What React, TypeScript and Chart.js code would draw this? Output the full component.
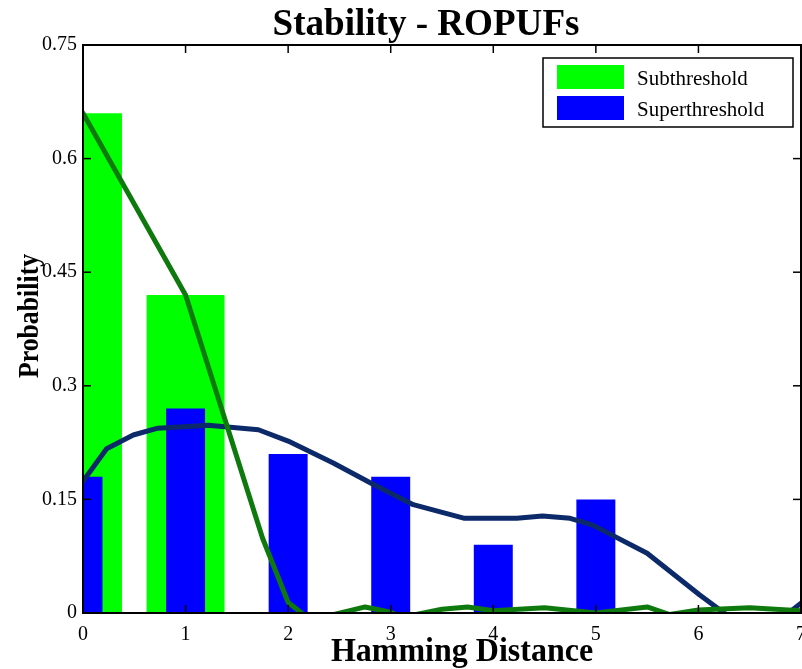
import React, { useEffect, useRef } from "react";
import { Chart, registerables } from "chart.js";

Chart.register(...registerables);

// ---- data ----
const categories = [0, 1, 2, 3, 4, 5, 6, 7];
const subthreshold = [0.66, 0.42, 0, 0, 0, 0, 0, 0];
const superthreshold = [0.18, 0.27, 0.21, 0.18, 0.09, 0.15, 0, 0];

const subFitX = [0, 1, 1.75, 2, 2.15, 2.3, 2.45, 2.75, 3.0, 3.12, 3.25, 3.5, 3.75, 4.0, 4.5, 5.0, 5.5, 5.72, 6.0, 6.5, 7.0];
const subFitY = [0.66, 0.42, 0.099, 0.014, -0.002, -0.015, -0.002, 0.008, 0.001, -0.006, -0.002, 0.005, 0.008, 0.003, 0.007, 0.0, 0.008, -0.002, 0.004, 0.007, 0.003];

const superFitX = [0, 0.23, 0.49, 0.73, 1.22, 1.71, 2.0, 2.44, 2.8, 3.22, 3.72, 4.23, 4.48, 4.75, 4.97, 5.5, 6.01, 6.28, 6.55, 6.84, 7.0];
const superFitY = [0.174, 0.217, 0.235, 0.244, 0.248, 0.242, 0.227, 0.198, 0.172, 0.143, 0.125, 0.125, 0.128, 0.125, 0.116, 0.079, 0.024, -0.003, -0.02, -0.004, 0.013];

const xTicks = [0, 1, 2, 3, 4, 5, 6, 7];
const xTickLabels = ["0", "1", "2", "3", "4", "5", "6", "7"];
const yTicks = [0, 0.15, 0.3, 0.45, 0.6, 0.75];
const yTickLabels = ["0", "0.15", "0.3", "0.45", "0.6", "0.75"];

const legendLabels = ["Subthreshold", "Superthreshold"];
const titleText = "Stability - ROPUFs";
const xTitleText = "Hamming Distance";
const yTitleText = "Probability";

// ---- styles ----
const SERIF = '"Liberation Serif", "Times New Roman", serif';
const GREEN_BAR = "#00ff00";
const BLUE_BAR = "#0000ff";
const GREEN_LINE = "#0e7a0e";
const NAVY_LINE = "#0c2a6a";

const decorPlugin = {
  id: "decor",
  afterDatasetsDraw(chart: any) {
    const { ctx, chartArea: a, scales } = chart;
    ctx.save();
    // frame
    ctx.strokeStyle = "#000";
    ctx.lineWidth = 2;
    ctx.strokeRect(a.left, a.top, a.right - a.left, a.bottom - a.top);
    // inward ticks
    ctx.lineWidth = 1.5;
    const tl = 8;
    const seg = (x1: number, y1: number, x2: number, y2: number) => {
      ctx.beginPath();
      ctx.moveTo(x1, y1);
      ctx.lineTo(x2, y2);
      ctx.stroke();
    };
    xTicks.forEach((v) => {
      const x = scales.x.getPixelForValue(v);
      seg(x, a.bottom, x, a.bottom - tl);
      seg(x, a.top, x, a.top + tl);
    });
    yTicks.forEach((v) => {
      const y = scales.y.getPixelForValue(v);
      seg(a.left, y, a.left + tl, y);
      seg(a.right, y, a.right - tl, y);
    });

    // legend box
    const lx = a.right - 258;
    const ly = a.top + 13;
    const lw = 250;
    const lh = 69;
    ctx.fillStyle = "#fff";
    ctx.fillRect(lx, ly, lw, lh);
    ctx.lineWidth = 1.5;
    ctx.strokeStyle = "#000";
    ctx.strokeRect(lx, ly, lw, lh);
    const colors = [GREEN_BAR, BLUE_BAR];
    ctx.font = `21px ${SERIF}`;
    ctx.textBaseline = "middle";
    ctx.textAlign = "left";
    legendLabels.forEach((lab, i) => {
      const sy = ly + 7 + i * 31;
      ctx.fillStyle = colors[i];
      ctx.fillRect(lx + 14, sy, 67, 24);
      ctx.fillStyle = "#000";
      ctx.fillText(lab, lx + 94, sy + 14);
    });

    // titles
    ctx.fillStyle = "#000";
    ctx.textAlign = "center";
    ctx.textBaseline = "alphabetic";

    ctx.save();
    ctx.translate((a.left + a.right) / 2 - 16, 35);
    ctx.scale(1.03, 1.08);
    ctx.font = `bold 36px ${SERIF}`;
    ctx.fillText(titleText, 0, 0);
    ctx.restore();

    ctx.save();
    ctx.translate((a.left + a.right) / 2 + 20, 661);
    ctx.scale(1.0, 1.08);
    ctx.font = `bold 32px ${SERIF}`;
    ctx.fillText(xTitleText, 0, 0);
    ctx.restore();

    ctx.save();
    ctx.translate(38, (a.top + a.bottom) / 2 - 13);
    ctx.rotate(-Math.PI / 2);
    ctx.scale(0.86, 1.0);
    ctx.font = `bold 30px ${SERIF}`;
    ctx.fillText(yTitleText, 0, 0);
    ctx.restore();

    ctx.restore();
  },
};

export default function App() {
  const canvasRef = useRef<HTMLCanvasElement | null>(null);

  useEffect(() => {
    if (!canvasRef.current) return;
    const chart = new Chart(canvasRef.current, {
      type: "bar",
      data: {
        datasets: [
          {
            type: "line",
            label: "subFit",
            data: subFitX.map((x, i) => ({ x, y: subFitY[i] })),
            borderColor: GREEN_LINE,
            borderWidth: 5,
            pointRadius: 0,
            tension: 0,
            borderCapStyle: "round",
            borderJoinStyle: "round",
            order: 0,
          } as any,
          {
            type: "line",
            label: "superFit",
            data: superFitX.map((x, i) => ({ x, y: superFitY[i] })),
            borderColor: NAVY_LINE,
            borderWidth: 5,
            pointRadius: 0,
            tension: 0,
            borderCapStyle: "round",
            borderJoinStyle: "round",
            order: 1,
          } as any,
          {
            type: "bar",
            label: legendLabels[1],
            data: categories.map((x, i) => ({ x, y: superthreshold[i] })),
            backgroundColor: BLUE_BAR,
            borderWidth: 0,
            barPercentage: 0.38,
            categoryPercentage: 1,
            grouped: false,
            clip: 0,
            order: 2,
          } as any,
          {
            type: "bar",
            label: legendLabels[0],
            data: categories.map((x, i) => ({ x, y: subthreshold[i] })),
            backgroundColor: GREEN_BAR,
            borderWidth: 0,
            barPercentage: 0.76,
            categoryPercentage: 1,
            grouped: false,
            clip: 0,
            order: 3,
          } as any,
        ],
      },
      options: {
        responsive: false,
        animation: false,
        devicePixelRatio: 1,
        layout: { padding: { top: 45, right: 1, left: 0, bottom: 0 } },
        plugins: {
          legend: { display: false },
          title: { display: false },
          tooltip: { enabled: false },
        },
        scales: {
          x: {
            type: "linear",
            min: 0,
            max: 7,
            offset: false,
            grid: { display: false, drawTicks: false },
            border: { display: false },
            afterBuildTicks: (s: any) => {
              s.ticks = xTicks.map((v) => ({ value: v }));
            },
            ticks: {
              autoSkip: false,
              maxRotation: 0,
              padding: 10,
              color: "#000",
              font: { family: SERIF, size: 20 },
              callback: (_v: any, i: number) => xTickLabels[i],
            },
            afterFit: (s: any) => {
              s.height = 56;
              s.paddingLeft = 0;
              s.paddingRight = 0;
            },
          },
          y: {
            type: "linear",
            min: 0,
            max: 0.75,
            grid: { display: false, drawTicks: false },
            border: { display: false },
            afterBuildTicks: (s: any) => {
              s.ticks = yTicks.map((v) => ({ value: v }));
            },
            ticks: {
              autoSkip: false,
              padding: 6,
              color: "#000",
              font: { family: SERIF, size: 20 },
              callback: (_v: any, i: number) => yTickLabels[i],
            },
            afterFit: (s: any) => {
              s.width = 83;
            },
          },
        },
      } as any,
      plugins: [decorPlugin],
    });
    return () => chart.destroy();
  }, []);

  return (
    <div style={{ position: "fixed", left: 0, top: 0, width: 802, height: 669, background: "#fff" }}>
      <canvas ref={canvasRef} width={802} height={669} style={{ display: "block", width: 802, height: 669 }} />
    </div>
  );
}
